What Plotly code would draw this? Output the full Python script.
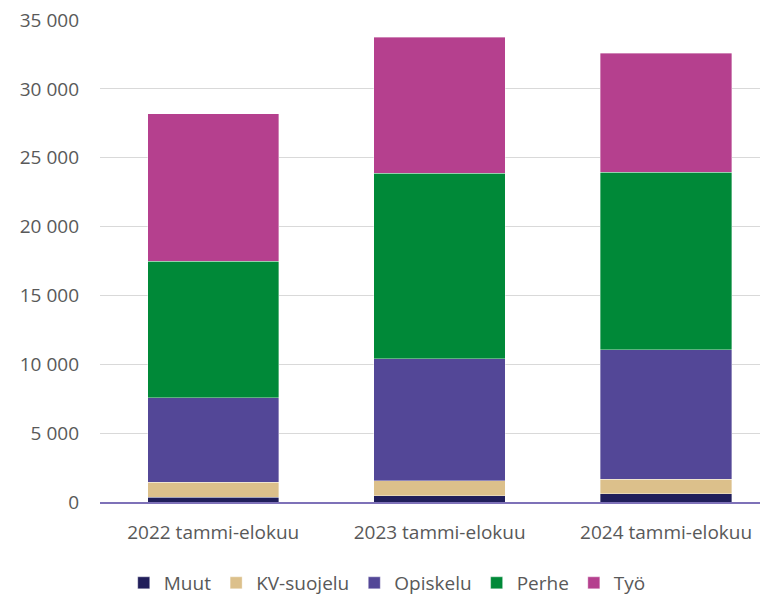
import plotly.graph_objects as go

categories = ["2022 tammi-elokuu", "2023 tammi-elokuu", "2024 tammi-elokuu"]
muut = [360, 470, 610]
kv_suojelu = [1090, 1060, 1060]
opiskelu = [6130, 8890, 9400]
perhe = [9900, 13460, 12870]
tyo = [10730, 9860, 8650]

series = [
    ("Muut", muut, "#201e5a"),
    ("KV-suojelu", kv_suojelu, "#dcc08b"),
    ("Opiskelu", opiskelu, "#534797"),
    ("Perhe", perhe, "#008938"),
    ("Työ", tyo, "#b5408e"),
]

tickvals = [0, 5000, 10000, 15000, 20000, 25000, 30000, 35000]
ticktext = ["0", "5 000", "10 000", "15 000", "20 000", "25 000", "30 000", "35 000"]

fig = go.Figure()
for name, vals, color in series:
    fig.add_trace(go.Bar(
        name=name, x=categories, y=vals,
        marker=dict(color=color, line=dict(color="rgba(255,255,255,0.6)", width=0.6)),
    ))

font = "Open Sans, Liberation Sans, sans-serif"
fig.update_layout(
    barmode="stack",
    bargap=0.42,
    width=760, height=588,
    margin=dict(l=92, r=0, t=12, b=94, autoexpand=False),
    paper_bgcolor="white", plot_bgcolor="white",
    font=dict(family=font, size=19, color="#595959"),
    showlegend=True,
    legend=dict(orientation="h", x=0.43, xanchor="center", y=-0.168, yanchor="middle",
                font=dict(size=19, color="#595959"), traceorder="normal",
                itemwidth=30, tracegroupgap=0),
    xaxis=dict(range=[-0.5, 2.45], showline=True, linecolor="#7e71b8", linewidth=2,
               ticks="", ticklabelstandoff=12, automargin=False,
               tickfont=dict(size=19, color="#595959"), showgrid=False),
    yaxis=dict(range=[0, 35000], tickvals=tickvals, ticktext=ticktext,
               showgrid=True, gridcolor="#d9d9d9", gridwidth=1, zeroline=False,
               ticks="", ticklabelstandoff=20, automargin=False,
               ticklabeloverflow="allow",
               tickfont=dict(size=19, color="#595959")),
)
fig.write_html("out.html")
